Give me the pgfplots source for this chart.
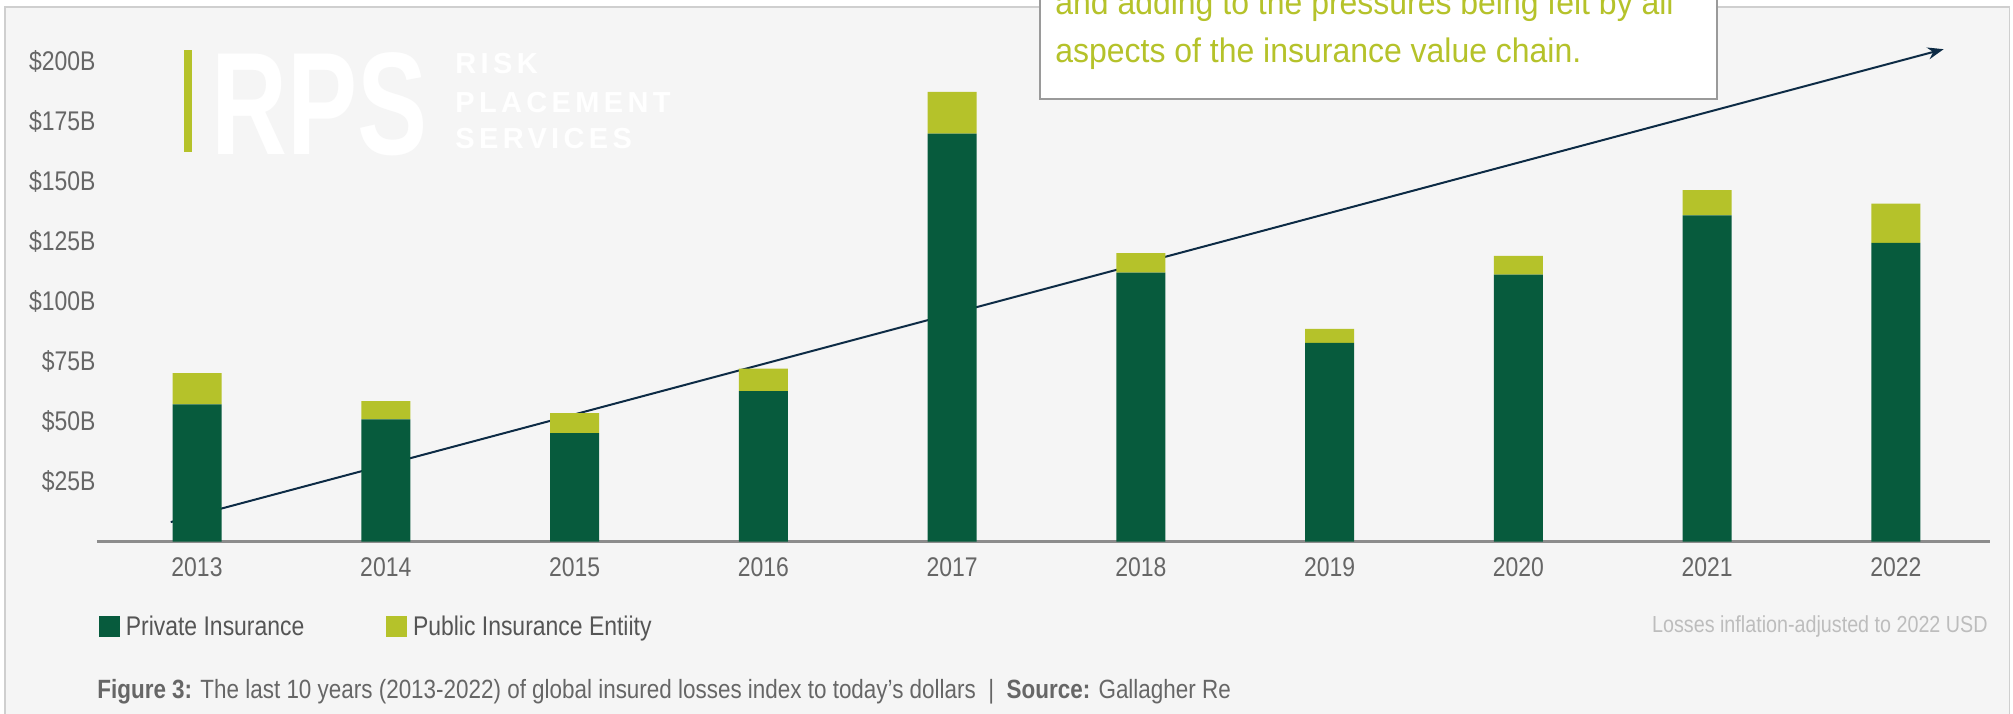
\documentclass[border=0pt]{standalone}
\usepackage{fontspec}
\setmainfont{Liberation Sans}[FakeStretch=0.85]
\newfontfamily\boxfont{Liberation Sans}[FakeStretch=0.94]
\newfontfamily\logofont{Liberation Sans}[FakeStretch=0.72]
\newfontfamily\rpsfont{Liberation Sans}[LetterSpace=15]
\usepackage{pgfplots}
\usepackage{pgfplotstable}
\pgfplotsset{compat=1.18}
\usetikzlibrary{arrows.meta}
\definecolor{darkgreen}{HTML}{075B3D}
\definecolor{lime}{HTML}{B5C22A}
\definecolor{bgcol}{HTML}{F5F5F5}
\definecolor{framegray}{HTML}{CFCFCF}
\definecolor{axisgray}{HTML}{8C8C8C}
\definecolor{tickgray}{HTML}{666666}
\definecolor{legendgray}{HTML}{555555}
\definecolor{notegray}{HTML}{BDBDBD}
\definecolor{boxgray}{HTML}{9A9A9A}
\definecolor{arrowcol}{HTML}{0D2B45}

\pgfplotstableread{
x private public
0 57.2 13.0
1 50.9 7.6
2 45.2 8.3
3 62.7 9.4
4 170.1 17.4
5 112.1 8.2
6 82.8 5.9
7 111.3 7.8
8 136.0 10.5
9 124.5 16.4
}\losses

\begin{document}
\begin{tikzpicture}[x=0.5pt,y=0.5pt]
\path[use as bounding box, clip] (0,0) rectangle (2013,713);
\fill[white] (0,0) rectangle (2013,713);
\draw[framegray, line width=0.8pt, fill=bgcol] (4.7,-5) rectangle (2009.5,705.7);
% logo
\fill[lime] (183.5,561) rectangle (191.5,663);
\node[anchor=base west, inner sep=0pt, text=white, font=\logofont\bfseries\fontsize{73}{80}\selectfont] at (211,558) {RPS};
\node[anchor=base west, inner sep=0pt, text=white, font=\rpsfont\bfseries\fontsize{14.5}{16}\selectfont] at (455,639.5) {RISK};
\node[anchor=base west, inner sep=0pt, text=white, font=\rpsfont\bfseries\fontsize{14.5}{16}\selectfont] at (455,600.5) {PLACEMENT};
\node[anchor=base west, inner sep=0pt, text=white, font=\rpsfont\bfseries\fontsize{14.5}{16}\selectfont] at (455,564.5) {SERVICES};
% text box
\draw[boxgray, fill=white, line width=0.8pt] (1040,614) rectangle (1717,760);
\node[anchor=base west, inner sep=0pt, text=lime, font=\boxfont\fontsize{17}{20}\selectfont] at (1055,698) {and adding to the pressures being felt by all};
\node[anchor=base west, inner sep=0pt, text=lime, font=\boxfont\fontsize{17}{20}\selectfont] at (1055,650) {aspects of the insurance value chain.};

\begin{axis}[
  at={(98.5pt,85.75pt)}, anchor=origin, scale only axis,
  width=946.65pt, height=263.78pt,
  xmin=-0.53, xmax=9.5, ymin=0, ymax=220,
  enlargelimits=false, clip=false,
  ybar stacked, bar width=24.5pt,
  axis x line*=bottom, axis y line*=left,
  x axis line style={draw=axisgray, line width=1.5pt, -},
  y axis line style={draw=none, -},
  major tick length=0pt, tick style={draw=none},
  xtick={0,...,9},
  xticklabels={2013,2014,2015,2016,2017,2018,2019,2020,2021,2022},
  ytick={25,50,75,100,125,150,175,200},
  yticklabels={\$25B,\$50B,\$75B,\$100B,\$125B,\$150B,\$175B,\$200B},
  tick label style={font=\fontsize{13.5}{16}\selectfont, text=tickgray},
  xticklabel style={anchor=center, inner sep=0pt, yshift=-12.75pt},
  yticklabel style={anchor=east, inner sep=0pt, xshift=-0.5pt},
  legend columns=2,
  legend cell align=left,
  legend style={at={(0.0012,-0.162)}, anchor=west, draw=none, fill=none,
    inner sep=0pt, outer sep=0pt,
    font=\fontsize{13.5}{16}\selectfont, text=legendgray,
    nodes={inner sep=0pt},
    /tikz/every odd column/.append style={column sep=2.8pt},
    /tikz/every even column/.append style={column sep=41pt}},
  legend image code/.code={\fill[#1] (0pt,-5.25pt) rectangle (10.5pt,5.25pt);},
]
\addplot[fill=darkgreen, draw=none] table[x=x, y=private] {\losses};
\addlegendentry{Private Insurance}
\addplot[fill=lime, draw=none] table[x=x, y=public] {\losses};
\addlegendentry{Public Insurance Entiity}
\draw[arrowcol, line width=1pt, -{Stealth[length=8pt,width=6pt]}] (axis cs:-0.139,8.1) -- (axis cs:9.253,205.3);
\end{axis}

\node[anchor=east, inner sep=0pt, text=notegray, font=\fontsize{11.6}{14}\selectfont] at (1988,87) {Losses inflation-adjusted to 2022 USD};
\node[anchor=west, inner sep=0pt, text=tickgray, font=\fontsize{13.2}{16}\selectfont] at (97,21) {\textbf{Figure 3:} The last 10 years (2013-2022) of global insured losses index to today’s dollars \ \textbar\ \ \textbf{Source:} Gallagher Re};
\end{tikzpicture}
\end{document}
